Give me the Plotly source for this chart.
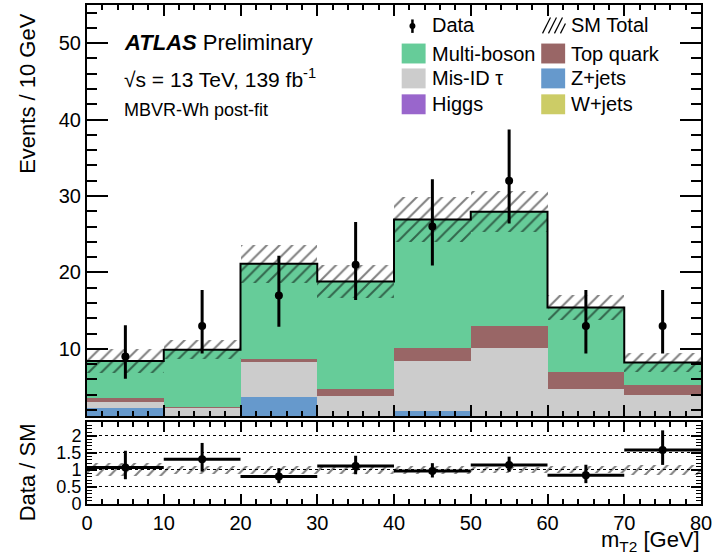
import numpy as np
import plotly.graph_objects as go

# ---------------- data ----------------
bin_edges = [0, 10, 20, 30, 40, 50, 60, 70, 80]
bin_centers = [5, 15, 25, 35, 45, 55, 65, 75]

wjets      = [0.05, 0.05, 0.05, 0.05, 0.05, 0.05, 0.05, 0.05]
higgs      = [0.05, 0.05, 0.05, 0.05, 0.05, 0.05, 0.05, 0.05]
zjets      = [2.20, 0.50, 3.55, 0.60, 1.72, 0.50, 0.40, 0.30]
misid_tau  = [0.73, 1.70, 4.60, 3.08, 6.65, 9.53, 4.19, 3.51]
top_quark  = [0.58, 0.15, 0.48, 0.95, 1.66, 2.91, 2.26, 1.30]
multiboson = [4.80, 7.45, 12.40, 14.10, 16.80, 14.90, 8.45, 3.00]

sm_total_err = [1.6, 1.2, 2.5, 2.2, 3.0, 2.7, 1.6, 1.2]

data_counts  = [9, 13, 17, 21, 26, 32, 13, 13]
data_err_up  = [4.1, 4.7, 5.2, 5.6, 6.2, 6.7, 4.7, 4.7]
data_err_dn  = [2.9, 3.6, 4.1, 4.6, 5.1, 5.6, 3.6, 3.6]

main_yticks  = [10, 20, 30, 40, 50]
ratio_yticks = [0, 0.5, 1, 1.5, 2]
ratio_ylabels = ["0", "0.5", "1", "1.5", "2"]
x_ticks = [0, 10, 20, 30, 40, 50, 60, 70, 80]

# stack order bottom -> top
stack = [
    ("W+jets", wjets, "#cccc66"),
    ("Higgs", higgs, "#9966cc"),
    ("Z+jets", zjets, "#6699cc"),
    ("Mis-ID τ", misid_tau, "#cccccc"),
    ("Top quark", top_quark, "#996666"),
    ("Multi-boson", multiboson, "#66cc99"),
]

# ---------------- figure ----------------
W, H = 715, 557
L, R, T, B = 87, 12, 3, 53
PW, PH = W - L - R, H - T - B
FONT = "Liberation Sans, Arial, Helvetica, sans-serif"


def px2x(px):
    return (px - L) / PW


def py2y(py):
    return (H - B - py) / PH


HATCH = dict(shape="/", fgcolor="black", size=9, solidity=0.22, fillmode="overlay")

fig = go.Figure()

base = np.zeros(len(bin_centers))
for name, vals, col in stack:
    v = np.array(vals, dtype=float)
    fig.add_trace(go.Bar(x=bin_centers, y=v, base=base.copy(), width=10,
                         marker=dict(color=col, line=dict(width=0)),
                         xaxis="x", yaxis="y", showlegend=False, name=name))
    base = base + v
total = base
err = np.array(sm_total_err)

# hatched uncertainty band
fig.add_trace(go.Bar(x=bin_centers, y=2 * err, base=total - err, width=10,
                     marker=dict(color="rgba(0,0,0,0)", line=dict(width=0), pattern=HATCH),
                     xaxis="x", yaxis="y", showlegend=False))

# total outline
fig.add_trace(go.Scatter(x=bin_edges, y=np.append(total, total[-1]), mode="lines",
                         line=dict(color="black", width=2, shape="hv"),
                         xaxis="x", yaxis="y", showlegend=False))

# data
fig.add_trace(go.Scatter(x=bin_centers, y=data_counts, mode="markers",
                         marker=dict(color="black", size=8),
                         error_y=dict(type="data", array=data_err_up, arrayminus=data_err_dn,
                                      width=0, thickness=3, color="black"),
                         xaxis="x", yaxis="y", showlegend=False))

# ratio
d = np.array(data_counts, dtype=float)
ratio = d / total
rel = err / total
fig.add_trace(go.Bar(x=bin_centers, y=2 * rel, base=1 - rel, width=10,
                     marker=dict(color="rgba(0,0,0,0)", line=dict(width=0), pattern=HATCH),
                     xaxis="x2", yaxis="y2", showlegend=False))
fig.add_trace(go.Scatter(x=bin_centers, y=ratio, mode="markers",
                         marker=dict(color="black", size=8),
                         error_y=dict(type="data", array=np.array(data_err_up) / total,
                                      arrayminus=np.array(data_err_dn) / total,
                                      width=0, thickness=3, color="black"),
                         error_x=dict(type="constant", value=5, width=0, thickness=3,
                                      color="black"),
                         xaxis="x2", yaxis="y2", showlegend=False))

main_dom = [py2y(416), 1.0]
ratio_dom = [0.0, py2y(421.7)]

axis_common = dict(showline=True, linecolor="black", linewidth=2, mirror="allticks",
                   ticks="inside", tickcolor="black", tickwidth=1.5,
                   tickfont=dict(family=FONT, size=20, color="black"),
                   zeroline=False, showgrid=False)

fig.update_layout(
    width=W, height=H,
    margin=dict(l=L, r=R, t=T, b=B),
    paper_bgcolor="white", plot_bgcolor="white",
    barmode="overlay", bargap=0,
    font=dict(family=FONT, color="black"),
    xaxis=dict(**axis_common, domain=[0, 1], range=[0, 80], anchor="y",
               tickvals=x_ticks, showticklabels=False, ticklen=11,
               minor=dict(dtick=2, ticklen=5, ticks="inside", tickcolor="black", tickwidth=1.5)),
    yaxis=dict(**axis_common, domain=main_dom, range=[1.17, 55], anchor="x",
               tickvals=main_yticks, ticklen=21,
               minor=dict(dtick=2, ticklen=10, ticks="inside", tickcolor="black", tickwidth=1.5)),
    xaxis2=dict(**axis_common, domain=[0, 1], range=[0, 80], anchor="y2",
                tickvals=x_ticks, ticklen=10,
                minor=dict(dtick=2, ticklen=5, ticks="inside", tickcolor="black", tickwidth=1.5)),
    yaxis2=dict(**axis_common, domain=ratio_dom, range=[0, 2.4], anchor="x2",
                tickvals=ratio_yticks, ticktext=ratio_ylabels, ticklen=10,
                minor=dict(dtick=0.1, ticklen=5, ticks="inside", tickcolor="black", tickwidth=1.2)),
)
fig.update_layout(yaxis2=dict(showgrid=True, gridcolor="black", griddash="dot", gridwidth=1,
                              tickfont=dict(family=FONT, size=18, color="black")))

annotations = []
shapes = []

# ATLAS label
annotations.append(dict(x=px2x(122), y=py2y(41), xref="paper", yref="paper",
                        xanchor="left", yanchor="middle", showarrow=False,
                        text="<b><i>ATLAS</i></b> Preliminary",
                        font=dict(family=FONT, size=22, color="black")))
annotations.append(dict(x=px2x(122), y=py2y(76), xref="paper", yref="paper",
                        xanchor="left", yanchor="middle", showarrow=False,
                        text="√s = 13 TeV, 139 fb<sup>-1</sup>",
                        font=dict(family=FONT, size=21, color="black")))
annotations.append(dict(x=px2x(122), y=py2y(108), xref="paper", yref="paper",
                        xanchor="left", yanchor="middle", showarrow=False,
                        text="MBVR-Wh post-fit",
                        font=dict(family=FONT, size=18, color="black")))

# axis titles
annotations.append(dict(x=px2x(27), y=py2y(92), xref="paper", yref="paper",
                        xanchor="center", yanchor="middle", showarrow=False, textangle=-90,
                        text="Events / 10 GeV", font=dict(family=FONT, size=22, color="black")))
annotations.append(dict(x=px2x(27), y=py2y(472), xref="paper", yref="paper",
                        xanchor="center", yanchor="middle", showarrow=False, textangle=-90,
                        text="Data / SM", font=dict(family=FONT, size=22, color="black")))
annotations.append(dict(x=px2x(704), y=py2y(541), xref="paper", yref="paper",
                        xanchor="right", yanchor="middle", showarrow=False,
                        text="m<sub>T2</sub> [GeV]", font=dict(family=FONT, size=22, color="black")))

# legend
rows = [23.5, 51.7, 76.7, 102.7]
legend_boxes = [
    ("Multi-boson", "#66cc99", 0, 1), ("Top quark", "#996666", 1, 1),
    ("Mis-ID τ", "#cccccc", 0, 2), ("Z+jets", "#6699cc", 1, 2),
    ("Higgs", "#9966cc", 0, 3), ("W+jets", "#cccc66", 1, 3),
]
col_box_x = [402.7, 542.7]
col_text_x = [431.5, 571]
for name, col, c, r in legend_boxes:
    yc = rows[r]
    shapes.append(dict(type="rect", xref="paper", yref="paper",
                       x0=px2x(col_box_x[c]), x1=px2x(col_box_x[c] + 24),
                       y0=py2y(yc - 10), y1=py2y(yc + 10),
                       fillcolor=col, line=dict(width=0), layer="above"))
    annotations.append(dict(x=px2x(col_text_x[c]), y=py2y(yc), xref="paper", yref="paper",
                            xanchor="left", yanchor="middle", showarrow=False, text=name,
                            font=dict(family=FONT, size=20, color="black")))
# Data legend entry
shapes.append(dict(type="line", xref="paper", yref="paper",
                   x0=px2x(413.5), x1=px2x(413.5), y0=py2y(17.5), y1=py2y(31),
                   line=dict(color="black", width=2.5), layer="above"))
shapes.append(dict(type="circle", xref="paper", yref="paper",
                   x0=px2x(410.5), x1=px2x(416.5), y0=py2y(21), y1=py2y(27),
                   fillcolor="black", line=dict(color="black", width=0), layer="above"))
annotations.append(dict(x=px2x(col_text_x[0]), y=py2y(rows[0]), xref="paper", yref="paper",
                        xanchor="left", yanchor="middle", showarrow=False, text="Data",
                        font=dict(family=FONT, size=20, color="black")))
# SM Total legend entry
hatch_lines = [(544, 31.5, 552, 15.5), (550, 31.5, 558, 15.5),
               (556, 31.5, 564, 15.5), (562, 31.5, 567, 21.5)]
for (ax0, ay0, ax1, ay1) in hatch_lines:
    shapes.append(dict(type="line", xref="paper", yref="paper",
                       x0=px2x(ax0), x1=px2x(ax1), y0=py2y(ay0), y1=py2y(ay1),
                       line=dict(color="black", width=1.2), layer="above"))
annotations.append(dict(x=px2x(col_text_x[1]), y=py2y(rows[0]), xref="paper", yref="paper",
                        xanchor="left", yanchor="middle", showarrow=False, text="SM Total",
                        font=dict(family=FONT, size=20, color="black")))

fig.update_layout(annotations=annotations, shapes=shapes)

fig.write_html("out.html")
